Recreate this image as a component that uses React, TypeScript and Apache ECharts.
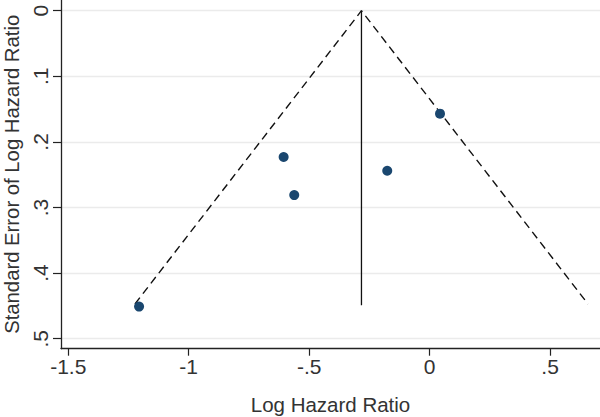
import React, { useEffect, useRef } from "react";
import * as echarts from "echarts";

const xTicks = [-1.5, -1, -0.5, 0, 0.5];
const yTicks = [0, 0.1, 0.2, 0.3, 0.4, 0.5];
const studyLogHR = [-1.206, -0.606, -0.562, -0.176, 0.043];
const studySE = [0.451, 0.223, 0.281, 0.244, 0.157];
const pooledLogHR = -0.283;
const funnelX = [-1.223, -0.283, 0.657];
const funnelSE = [0.447, 0, 0.447];
const pooledLineSE = [0, 0.449];

const fmt = (v: number) => {
  if (v === 0) return "0";
  const s = String(Math.round(v * 10) / 10);
  return s.replace(/^(-?)0\./, "$1.");
};

export default function App() {
  const ref = useRef<HTMLDivElement>(null);
  useEffect(() => {
    document.body.style.margin = "0";
    const chart = echarts.init(ref.current!, undefined, { renderer: "svg" });
    const textColor = "#333";
    const font = "Liberation Sans, Arial, Helvetica, sans-serif";
    chart.setOption({
      animation: false,
      backgroundColor: "#fff",
      textStyle: { fontFamily: font },
      grid: {
        left: 61,
        right: 0,
        top: 0,
        bottom: 68.3,
        containLabel: false,
        outerBoundsMode: "none",
      },
      xAxis: {
        type: "value",
        min: -1.53,
        max: 0.707,
        name: "Log Hazard Ratio",
        nameLocation: "middle",
        nameGap: 45,
        nameTextStyle: { color: textColor, fontSize: 20.5, fontFamily: font },
        axisLine: { show: true, onZero: false, lineStyle: { color: "#222", width: 1.3 } },
        axisTick: { show: true, length: 7, customValues: xTicks, lineStyle: { color: "#222", width: 1.2 } },
        axisLabel: {
          customValues: xTicks,
          formatter: (v: number) => fmt(v),
          color: textColor,
          fontSize: 21,
          margin: 7,
          fontFamily: font,
        },
        splitLine: { show: false },
      },
      yAxis: {
        type: "value",
        inverse: true,
        min: -0.0163,
        max: 0.5152,
        name: "Standard Error of Log Hazard Ratio",
        nameLocation: "middle",
        nameGap: 39,
        nameRotate: 90,
        nameTextStyle: { color: textColor, fontSize: 20.3, fontFamily: font },
        axisLine: { show: true, onZero: false, lineStyle: { color: "#222", width: 1.3 } },
        axisTick: { show: true, length: 8, customValues: yTicks, lineStyle: { color: "#222", width: 1.2 } },
        axisLabel: {
          customValues: yTicks,
          formatter: (v: number) => fmt(v),
          rotate: 90,
          color: textColor,
          fontSize: 21,
          margin: 10,
          fontFamily: font,
        },
        splitLine: { show: true, lineStyle: { color: "#ebebeb", width: 1.3 } },
      },
      series: [
        {
          type: "line",
          data: funnelX.map((x, i) => [x, funnelSE[i]]),
          symbol: "none",
          lineStyle: { color: "#111", width: 1.4, type: [8, 5] },
          z: 2,
        },
        {
          type: "line",
          data: pooledLineSE.map((s) => [pooledLogHR, s]),
          symbol: "none",
          lineStyle: { color: "#111", width: 1.3 },
          z: 2,
        },
        {
          type: "scatter",
          data: studyLogHR.map((x, i) => [x, studySE[i]]),
          symbol: "circle",
          symbolSize: 10,
          itemStyle: { color: "#1a476f", opacity: 1 },
          z: 3,
        },
      ],
    });
    return () => chart.dispose();
  }, []);
  return <div ref={ref} style={{ width: 600, height: 417 }} />;
}
